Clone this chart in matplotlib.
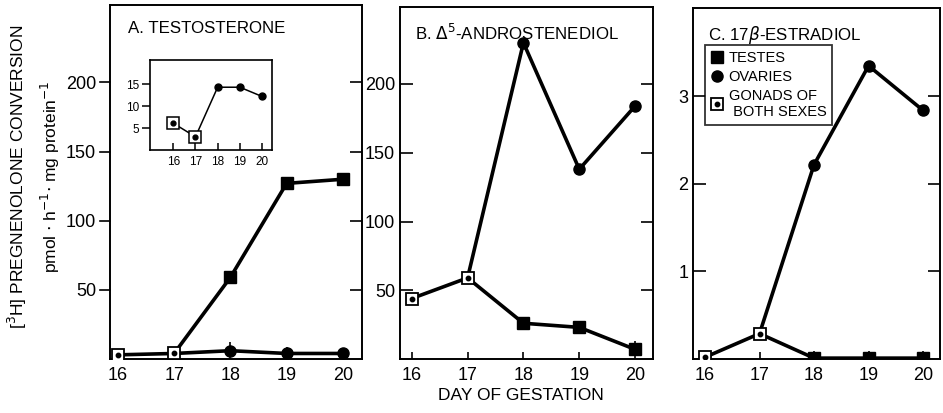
import matplotlib.pyplot as plt
from matplotlib.lines import Line2D

plt.rcParams['font.family'] = ['Liberation Sans', 'DejaVu Sans']

days = [16, 17, 18, 19, 20]

# Panel A - testosterone (main axes)
a_both = [3, 4]            # days 16, 17
a_testes = [59, 127, 130]  # days 18-20
a_ovaries = [6, 4, 4]      # days 18-20
a_both_err = [4, 4]
a_ovaries_err = [6, 5, 0]
# Panel A inset (low values)
ins_both = [6.1, 3.0]
ins_ovaries = [14.3, 14.3, 12.2]

# Panel B - delta5-androstenediol
b_both = [44, 59]
b_testes = [26, 23, 7]
b_ovaries = [230, 138, 184]
b_testes_err = [0, 0, 6]

# Panel C - 17beta-estradiol
c_both = [0.02, 0.29]
c_testes = [0.01, 0.01, 0.01]
c_ovaries = [2.22, 3.35, 2.84]
c_testes_err = [0.08, 0.08, 0.08]

W, H = 943, 413
fig = plt.figure(figsize=(W / 100, H / 100), dpi=100)


def px_axes(left, top, right, bottom):
    return fig.add_axes([left / W, 1 - bottom / H, (right - left) / W, (bottom - top) / H])


def draw_panel(ax, both, testes, ovaries, lw=2.6, ms=8):
    ax.plot(days[:2], both, color='black', lw=lw, zorder=2)
    ax.plot(days[1:], [both[1]] + testes, color='black', lw=lw, zorder=2)
    ax.plot(days[1:], [both[1]] + ovaries, color='black', lw=lw, zorder=2)
    ax.plot(days[2:], testes, 's', color='black', ms=ms, zorder=3)
    ax.plot(days[2:], ovaries, 'o', color='black', ms=ms, zorder=3)
    ax.plot(days[:2], both, 's', mfc='white', mec='black', mew=1.3, ms=ms, zorder=4)
    ax.plot(days[:2], both, 'o', color='black', ms=ms * 0.4, zorder=5)


def err_up(ax, x, y, e):
    # upper half of the error bar only, as in the print
    ax.errorbar(x, y, yerr=[[0] * len(e), e], fmt='none', ecolor='black',
                elinewidth=1.2, capsize=0, zorder=1)


def style(ax, ylim, yticks, xlim):
    ax.set_xlim(*xlim)
    ax.set_ylim(*ylim)
    ax.set_xticks(days)
    ax.set_yticks(yticks)
    ax.tick_params(axis='x', direction='in', length=5, width=1.2, labelsize=13, pad=6)
    ax.tick_params(axis='y', direction='in', length=9, width=1.2, labelsize=13, right=True)
    for s in ax.spines.values():
        s.set_linewidth(1.4)


# Panel A
axA = px_axes(110, 5, 362, 359)
draw_panel(axA, a_both, a_testes, a_ovaries)
err_up(axA, days[:2], a_both, a_both_err)
err_up(axA, days[2:], a_ovaries, a_ovaries_err)
style(axA, (0, 256), [50, 100, 150, 200], (15.86, 20.34))
axA.tick_params(axis='y', left=False, pad=10)
for y in [50, 100, 150, 200]:
    axA.plot([15.86 - 0.17, 15.86], [y, y], color='black', lw=1.2, clip_on=False)
axA.text(0.07, 0.955, 'A. TESTOSTERONE', transform=axA.transAxes, fontsize=12.2, va='top')

# inset
axI = px_axes(150, 60, 272, 150)
axI.plot(days[:2], ins_both, color='black', lw=1.1, zorder=2)
axI.plot(days[1:], [ins_both[1]] + ins_ovaries, color='black', lw=1.1, zorder=2)
axI.plot(days[2:], ins_ovaries, 'o', color='black', ms=5, zorder=3)
axI.plot(days[:2], ins_both, 's', mfc='white', mec='black', mew=1.1, ms=8, zorder=4)
axI.plot(days[:2], ins_both, 'o', color='black', ms=3.5, zorder=5)
axI.set_xlim(14.95, 20.45)
axI.set_ylim(0, 20.5)
axI.set_xticks(days)
axI.set_yticks([5, 10, 15])
axI.tick_params(axis='x', direction='in', length=5, width=1.1, labelsize=8.5, pad=4)
axI.tick_params(axis='y', direction='out', length=6, width=1.1, labelsize=8.5, pad=2)
for s in axI.spines.values():
    s.set_linewidth(1.2)

# Panel B
axB = px_axes(400, 7, 653, 359)
draw_panel(axB, b_both, b_testes, b_ovaries)
err_up(axB, days[2:], b_testes, b_testes_err)
style(axB, (0, 256), [50, 100, 150, 200], (15.79, 20.32))
axB.text(0.06, 0.955, 'B. $\\Delta^5$-ANDROSTENEDIOL', transform=axB.transAxes,
         fontsize=12.2, va='top')

# Panel C
axC = px_axes(693, 8, 940, 359)
draw_panel(axC, c_both, c_testes, c_ovaries)
err_up(axC, days[2:], c_testes, c_testes_err)
style(axC, (0, 4.01), [1, 2, 3], (15.78, 20.31))
axC.text(0.06, 0.955, 'C. 17$\\beta$-ESTRADIOL', transform=axC.transAxes,
         fontsize=12.2, va='top')

# legend for panel C
h_t = Line2D([], [], marker='s', color='black', ls='none', ms=8)
h_o = Line2D([], [], marker='o', color='black', ls='none', ms=8)
h_b1 = Line2D([], [], marker='s', mfc='white', mec='black', mew=1.3, ls='none', ms=8)
h_b2 = Line2D([], [], marker='o', color='black', ls='none', ms=3.2)
leg = axC.legend([h_t, h_o, (h_b1, h_b2)], ['TESTES', 'OVARIES', 'GONADS OF\n BOTH SEXES'],
                 loc='upper left', bbox_to_anchor=(0.05, 0.895), fontsize=10.5,
                 frameon=True, fancybox=False, edgecolor='black', handlelength=0.8,
                 handletextpad=0.4, borderpad=0.4, labelspacing=0.35, borderaxespad=0)
leg.get_frame().set_linewidth(1.3)

fig.text(0.019, 0.571, '[$^3$H] PREGNENOLONE CONVERSION', rotation=90, fontsize=12.5,
         ha='center', va='center')
fig.text(0.053, 0.571, 'pmol $\\cdot$ h$^{-1}$$\\cdot$ mg protein$^{-1}$', rotation=90,
         fontsize=12.5, ha='center', va='center')
fig.text(0.552, 0.043, 'DAY OF GESTATION', fontsize=12.5, ha='center', va='center')

fig.savefig('out.png', dpi=100)
